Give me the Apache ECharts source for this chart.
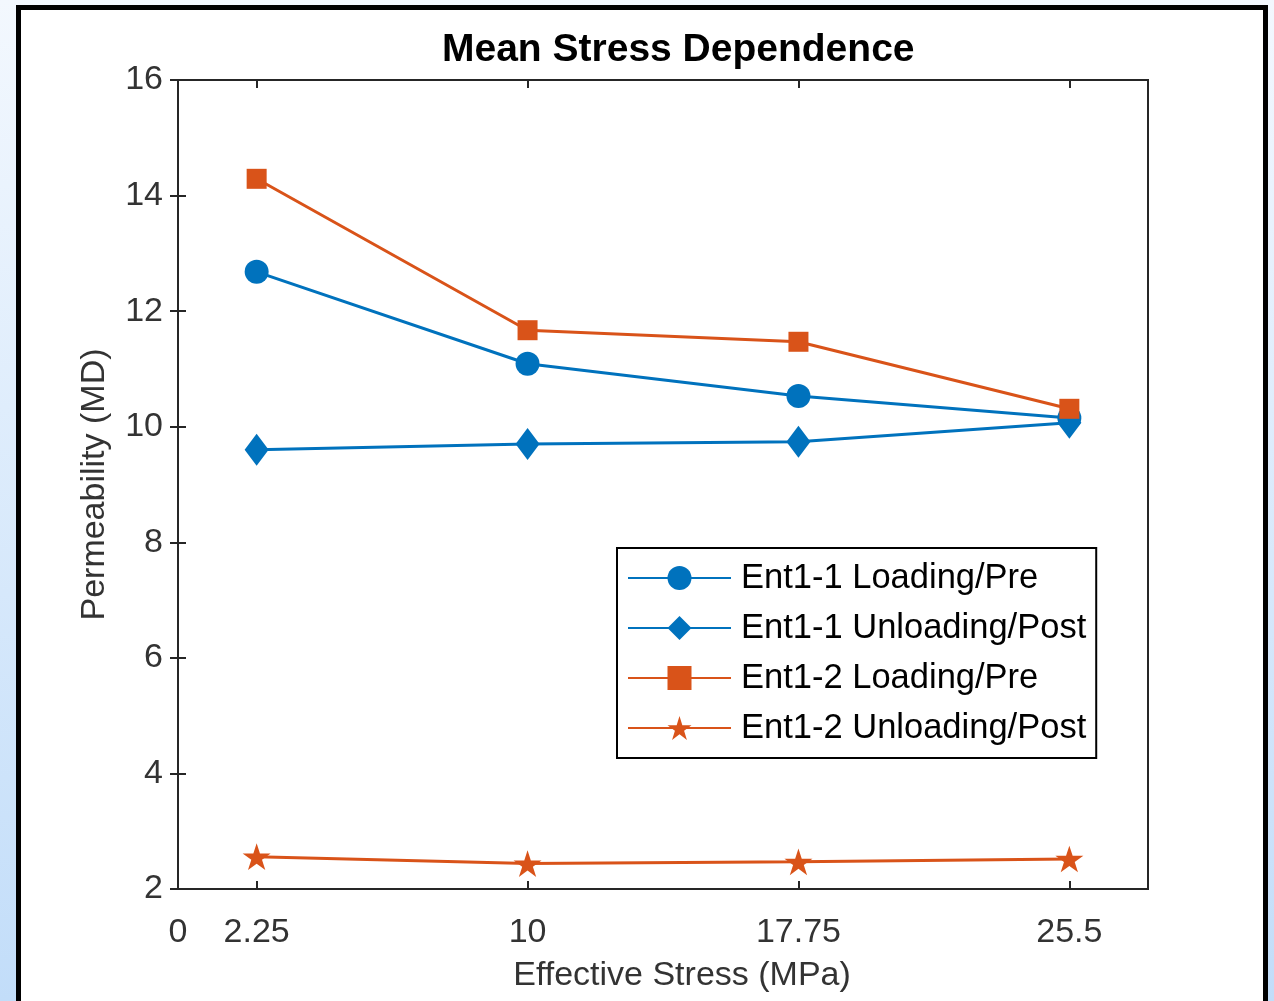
<!DOCTYPE html>
<html>
<head>
<meta charset="utf-8">
<script src="https://cdn.jsdelivr.net/npm/echarts@6/dist/echarts.min.js"></script>
<style>
  html, body { margin: 0; padding: 0; }
  #chart { width: 1274px; height: 1001px; }
</style>
</head>
<body>
<div id="chart"></div>
<script>
// Effective stress steps (MPa)
const stress = [2.25, 10, 17.75, 25.5];
const xLabelValues = [0, 2.25, 10, 17.75, 25.5];

// Permeability (MD) per test
const ent11Loading = [12.68, 11.09, 10.53, 10.15];
const ent11Unloading = [9.60, 9.70, 9.74, 10.07];
const ent12Loading = [14.29, 11.67, 11.47, 10.31];
const ent12Unloading = [2.56, 2.44, 2.47, 2.52];

const seriesNames = [
  'Ent1-1 Loading/Pre',
  'Ent1-1 Unloading/Post',
  'Ent1-2 Loading/Pre',
  'Ent1-2 Unloading/Post'
];

const BLUE = '#0072BD';
const ORANGE = '#D95319';
const AXIS = '#262626';
const FONT = '"Liberation Sans", Arial, sans-serif';
const STAR = 'path://M50 0 L61.23 34.55 L97.55 34.55 L68.17 55.9 L79.39 90.45 L50 69.1 L20.61 90.45 L31.83 55.9 L2.45 34.55 L38.77 34.55 Z';

function pairs(ys) { return stress.map((x, i) => [x, ys[i]]); }

function lineSeries(name, ys, color, symbol, size) {
  return {
    name: name,
    type: 'line',
    data: pairs(ys),
    symbol: symbol,
    symbolSize: size,
    symbolKeepAspect: true,
    showAllSymbol: true,
    clip: false,
    lineStyle: { color: color, width: 3 },
    itemStyle: { color: color },
    emphasis: { disabled: true },
    z: 3
  };
}

const chart = echarts.init(document.getElementById('chart'), null, { renderer: 'canvas' });

chart.setOption({
  animation: false,
  backgroundColor: {
    type: 'linear', x: 0, y: 0, x2: 0, y2: 1,
    colorStops: [
      { offset: 0, color: '#f3f8fe' },
      { offset: 1, color: '#c2ddf9' }
    ]
  },
  graphic: [
    {
      type: 'rect',
      z: -10,
      silent: true,
      shape: { x: 18.5, y: 7.5, width: 1247, height: 1020 },
      style: { fill: '#ffffff', stroke: '#000000', lineWidth: 5 }
    }
  ],
  title: {
    text: 'Mean Stress Dependence',
    left: 442,
    top: 31,
    padding: 0,
    textStyle: { fontFamily: FONT, fontSize: 39, fontWeight: 'bold', color: '#000' }
  },
  legend: {
    left: 617,
    top: 548,
    orient: 'vertical',
    data: seriesNames,
    padding: [10, 10, 10, 10],
    itemWidth: 103,
    itemHeight: 30,
    itemGap: 10,
    borderColor: '#000',
    borderWidth: 2,
    backgroundColor: '#fff',
    textStyle: {
      fontFamily: FONT, fontSize: 34.5, color: '#000',
      lineHeight: 40, padding: [0, 0, 0, 5]
    }
  },
  grid: {
    left: 178, right: 126, top: 80, bottom: 112,
    show: true, borderColor: AXIS, borderWidth: 2, backgroundColor: 'transparent'
  },
  xAxis: [
    {
      type: 'value',
      min: 0, max: 27.75,
      name: 'Effective Stress (MPa)',
      nameLocation: 'middle',
      nameGap: 70,
      nameTextStyle: { fontFamily: FONT, fontSize: 34, color: '#333', padding: [0, 0, 0, 38] },
      axisLine: { show: true, lineStyle: { color: AXIS, width: 2 } },
      axisTick: { show: true, inside: true, length: 8, customValues: stress, lineStyle: { color: AXIS, width: 2 } },
      axisLabel: { customValues: xLabelValues, fontFamily: FONT, fontSize: 34, color: '#333', margin: 27 },
      splitLine: { show: false }
    },
    {
      type: 'value',
      position: 'top',
      min: 0, max: 27.75,
      axisLine: { show: true, lineStyle: { color: AXIS, width: 2 } },
      axisTick: { show: true, inside: true, length: 8, customValues: stress, lineStyle: { color: AXIS, width: 2 } },
      axisLabel: { show: false },
      splitLine: { show: false }
    }
  ],
  yAxis: [
    {
      type: 'value',
      min: 2, max: 16, interval: 2,
      name: 'Permeability (MD)',
      nameLocation: 'middle',
      nameGap: 66,
      nameRotate: 90,
      nameTextStyle: { fontFamily: FONT, fontSize: 34, color: '#333' },
      axisLine: { show: true, lineStyle: { color: AXIS, width: 2 } },
      axisTick: { show: true, inside: true, length: 8, lineStyle: { color: AXIS, width: 2 } },
      axisLabel: { fontFamily: FONT, fontSize: 34, color: '#333', margin: 15 },
      splitLine: { show: false }
    },
    {
      type: 'value',
      position: 'right',
      min: 2, max: 16, interval: 2,
      axisLine: { show: true, lineStyle: { color: AXIS, width: 2 } },
      axisTick: { show: true, inside: true, length: 8, lineStyle: { color: AXIS, width: 2 } },
      axisLabel: { show: false },
      splitLine: { show: false }
    }
  ],
  series: [
    lineSeries(seriesNames[0], ent11Loading, BLUE, 'circle', 24),
    lineSeries(seriesNames[1], ent11Unloading, BLUE, 'diamond', [24, 32]),
    lineSeries(seriesNames[2], ent12Loading, ORANGE, 'rect', 20),
    lineSeries(seriesNames[3], ent12Unloading, ORANGE, STAR, 28)
  ]
});
</script>
</body>
</html>
